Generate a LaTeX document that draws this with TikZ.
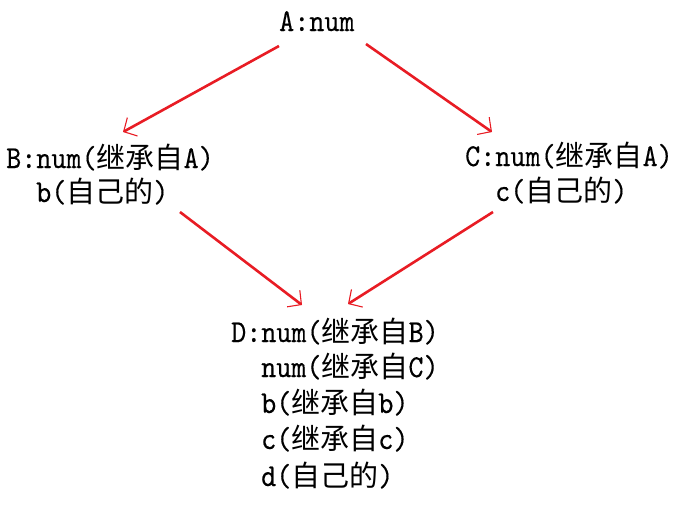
\documentclass[tikz,border=0pt]{standalone}
\usepackage{fontspec}
\usetikzlibrary{arrows.meta}
\newfontfamily\cjk{Noto Sans CJK SC}
\newfontfamily\mn[Scale=1.1,FakeStretch=0.9,FakeBold=0.3]{lmmono10-regular.otf}
\newcommand\zh[1]{{\cjk #1}}
\definecolor{arrred}{RGB}{232,28,36}
\tikzset{
  lbl/.style={inner sep=0pt, anchor=base west, font=\fontsize{29}{35}\selectfont\mn},
  arr/.style={draw=arrred, line width=2.6pt,
    -{Straight Barb[length=10pt,width=21pt,line width=1.1pt]}}
}
\begin{document}
\begin{tikzpicture}[x=1pt,y=-1pt]
\useasboundingbox (0,0) rectangle (673,507);
% A
\node[lbl] (A) at (279,31) {A:num};
% B
\node[lbl] (B1) at (6,168) {B:num(\zh{继承自}A)};
\node[lbl] (B2) at (36,202) {b(\zh{自己的})};
% C
\node[lbl] (C1) at (465,166) {C:num(\zh{继承自}A)};
\node[lbl] (C2) at (495,201) {c(\zh{自己的})};
% D
\node[lbl] (D1) at (231,342) {D:num(\zh{继承自}B)};
\node[lbl] (D2) at (261,377) {num(\zh{继承自}C)};
\node[lbl] (D3) at (261,413) {b(\zh{继承自}b)};
\node[lbl] (D4) at (261,449) {c(\zh{继承自}c)};
\node[lbl] (D5) at (261,486) {d(\zh{自己的})};
% connector ends
\coordinate (aL) at (279,46);
\coordinate (aR) at (366,44);
\coordinate (bT) at (123,132);
\coordinate (cT) at (492,132);
\coordinate (bS) at (180,212);
\coordinate (cS) at (493,212);
\coordinate (dL) at (302,305);
\coordinate (dR) at (348,304);
\draw[arr] (aL) -- (bT);
\draw[arr] (aR) -- (cT);
\draw[arr] (bS) -- (dL);
\draw[arr] (cS) -- (dR);
\end{tikzpicture}
\end{document}
